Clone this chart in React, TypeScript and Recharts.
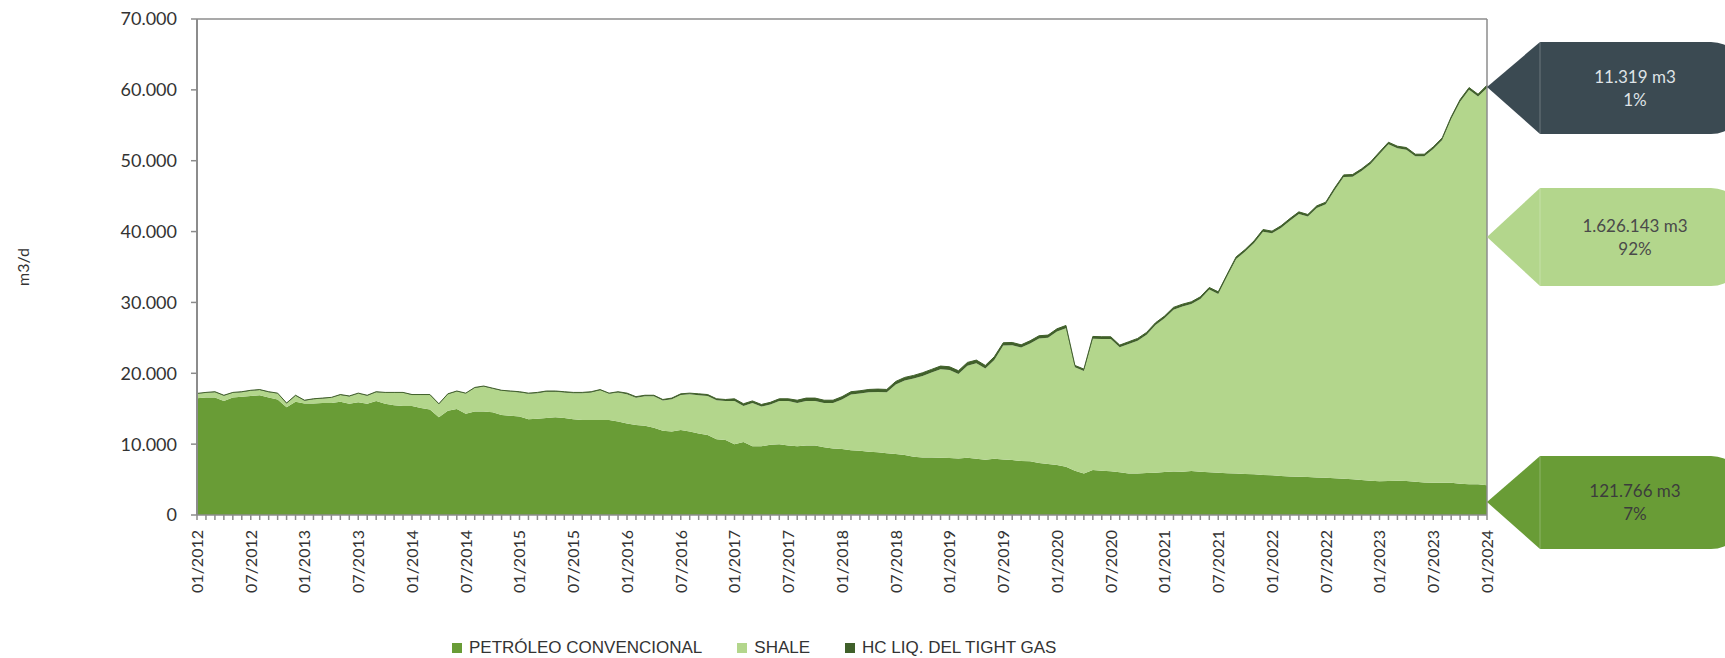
import React from 'react';
import { AreaChart, Area, XAxis, YAxis, ReferenceLine } from 'recharts';

// Monthly categories 01/2012 .. 01/2024
const YEARS = [2012, 2013, 2014, 2015, 2016, 2017, 2018, 2019, 2020, 2021, 2022, 2023, 2024];
const MONTH_CODES = ['01', '02', '03', '04', '05', '06', '07', '08', '09', '10', '11', '12'];
const MONTHS: string[] = [];
YEARS.forEach((y) => MONTH_CODES.forEach((m) => { if (y < 2024 || m === '01') MONTHS.push(`${m}/${y}`); }));

// m3/d
const CONVENCIONAL = [16460,16600,16600,16100,16600,16700,16800,16900,16600,16300,
15200,16000,15750,15750,15800,15800,16000,15700,15900,15700,
16100,15700,15500,15400,15400,15100,14900,13800,14700,14960,
14300,14600,14600,14500,14100,14000,13900,13500,13600,13700,
13800,13700,13500,13400,13400,13400,13400,13200,12900,12700,
12600,12300,11900,11800,12000,11800,11500,11300,10700,10600,
10000,10300,9700,9700,9900,10000,9800,9700,9800,9800,
9550,9400,9300,9150,9050,8940,8840,8700,8600,8460,
8220,8130,8130,8080,8040,7990,8080,7940,7800,7940,
7850,7760,7620,7570,7330,7190,7050,6820,6250,5870,
6350,6250,6160,6020,5870,5870,5920,5970,6060,6150,
6100,6200,6100,6050,5950,5900,5850,5800,5750,5650,
5600,5500,5450,5400,5350,5300,5250,5200,5100,5050,
4950,4850,4750,4800,4850,4800,4700,4600,4550,4550,
4550,4400,4350,4350,4200];

const SHALE = [640,640,740,740,640,640,740,740,740,840,
540,840,390,590,640,740,940,1040,1240,1140,
1240,1540,1740,1840,1530,1830,2030,1830,2330,2470,
2830,3330,3530,3330,3430,3430,3400,3600,3600,3700,
3600,3600,3700,3800,3900,4200,3700,4100,4150,3850,
4150,4450,4250,4550,4950,5250,5400,5500,5500,5500,
6100,5100,6100,5600,5700,6100,6300,6100,6300,6300,
6250,6400,7000,7850,8080,8380,8530,8620,9800,10510,
11030,11500,11970,12490,12430,11920,13000,13470,12860,13940,
16080,16210,16020,16640,17590,17820,18850,19550,14610,14470,
18530,18590,18680,17640,18260,18730,19530,20840,21690,22830,
23330,23590,24390,25760,25250,27790,30280,31370,32640,34340,
34160,35010,36090,37080,36760,38030,38600,40670,42600,42700,
43600,44680,46190,47510,46900,46760,45920,46020,47100,48370,
51330,53930,55670,54730,56070];

const TIGHT_GAS = [60,60,60,60,60,60,60,60,60,60,
60,60,60,60,60,60,60,60,60,60,
60,60,60,60,70,70,70,70,70,70,
70,70,70,70,70,70,100,100,100,100,
100,100,100,100,100,100,100,100,150,150,
150,150,150,150,150,150,200,200,200,200,
300,300,300,300,300,300,300,400,400,400,
400,400,400,400,400,400,400,400,450,450,
450,450,450,450,450,450,450,450,450,450,
380,380,380,380,380,380,380,380,250,250,
320,320,320,320,320,320,320,320,320,320,
320,300,300,300,300,300,300,300,300,300,
300,300,300,300,300,300,300,300,300,300,
300,300,300,300,300,300,300,300,300,300,
300,300,300,300,390];

const Y_TICKS = [0, 10000, 20000, 30000, 40000, 50000, 60000, 70000];
const SERIES_NAMES = ['PETRÓLEO CONVENCIONAL', 'SHALE', 'HC LIQ. DEL TIGHT GAS'];
const CALLOUT_VALUES = ['11.319 m3', '1.626.143 m3', '121.766 m3'];
const CALLOUT_PCTS = ['1%', '92%', '7%'];

const C_CONV = '#699c36';
const C_SHALE = '#b3d68c';
const C_TIGHT = '#40602a';
const C_DARKBOX = '#3b4a52';
const AXIS = '#8c8c8c';
const FONT = "Lato, 'Noto Sans', sans-serif";

const data = MONTHS.map((month, i) => ({
  month,
  conv: CONVENCIONAL[i],
  shale: SHALE[i],
  tight: TIGHT_GAS[i],
}));

const fmt = (v: number) => String(v).replace(/\B(?=(\d{3})+(?!\d))/g, '.');

const XTick = (props: any) => {
  const { x, y, payload } = props;
  const v: string = payload?.value ?? '';
  if (!(v.startsWith('01/') || v.startsWith('07/'))) return null;
  const ty = y + 8;
  return (
    <text x={x} y={ty} transform={`rotate(-90 ${x} ${ty})`} textAnchor="end" dy="0.36em"
      fontSize={16} fontFamily={FONT} fill="#333">{v}</text>
  );
};

const calloutPath = (tipY: number, top: number, bottom: number) => {
  const tipX = 1487, baseX = 1540, r = 34, right = 1745;
  return `M${tipX},${tipY} L${baseX},${top} L${right - r},${top} A${r},${r} 0 0 1 ${right},${top + r} L${right},${bottom - r} A${r},${r} 0 0 1 ${right - r},${bottom} L${baseX},${bottom} Z`;
};

const CALLOUT_GEOM = [
  { tipY: 87, top: 42, bottom: 134, fill: C_DARKBOX, text: '#dfe3e6' },
  { tipY: 237, top: 188, bottom: 286, fill: C_SHALE, text: '#4a4a4a' },
  { tipY: 502, top: 456, bottom: 549, fill: C_CONV, text: '#3c3c3c' },
];

export default function App() {
  return (
    <div style={{ position: 'absolute', left: 0, top: 0, width: 1725, height: 658, background: '#fff' }}>
      <AreaChart width={1725} height={658} data={data}
        margin={{ top: 19, right: 238, bottom: 43, left: 0 }}>
        <XAxis dataKey="month" interval={0} height={100} tickSize={5}
          axisLine={{ stroke: AXIS, strokeWidth: 1.5 }} tickLine={{ stroke: AXIS, strokeWidth: 1.5 }}
          tick={<XTick />} />
        <YAxis width={197} domain={[0, 70000]} ticks={Y_TICKS} tickFormatter={fmt}
          tickSize={6} tickMargin={14} allowDataOverflow
          axisLine={{ stroke: AXIS, strokeWidth: 2 }} tickLine={{ stroke: AXIS, strokeWidth: 1.5 }}
          tick={{ fontSize: 18, fontFamily: FONT, fill: '#333' }} />
        <Area type="linear" dataKey="conv" stackId="1" fill={C_CONV} fillOpacity={1} stroke="none"
          isAnimationActive={false} dot={false} activeDot={false} name={SERIES_NAMES[0]} />
        <Area type="linear" dataKey="shale" stackId="1" fill={C_SHALE} fillOpacity={1} stroke="none"
          isAnimationActive={false} dot={false} activeDot={false} name={SERIES_NAMES[1]} />
        <Area type="linear" dataKey="tight" stackId="1" fill={C_TIGHT} fillOpacity={1} stroke={C_TIGHT}
          strokeWidth={1} isAnimationActive={false} dot={false} activeDot={false} name={SERIES_NAMES[2]} />
        <ReferenceLine y={70000} stroke={AXIS} strokeWidth={1.5} />
        <ReferenceLine x={MONTHS[MONTHS.length - 1]} stroke={AXIS} strokeWidth={1.5} />
      </AreaChart>

      <svg width={1725} height={658} style={{ position: 'absolute', left: 0, top: 0, pointerEvents: 'none' }}>
        <text x={23} y={267} transform="rotate(-90 23 267)" textAnchor="middle" dy="0.35em"
          fontSize={16} fontFamily={FONT} fill="#333">m3/d</text>
        {CALLOUT_GEOM.map((g, i) => {
          const cy = (g.top + g.bottom) / 2;
          return (
            <g key={i}>
              <path d={calloutPath(g.tipY, g.top, g.bottom)} fill={g.fill} />
              <line x1={1540} y1={g.top} x2={1540} y2={g.bottom} stroke="#ffffff" strokeOpacity={0.25} strokeWidth={1} />
              <text x={1635} y={cy - 11} textAnchor="middle" dy="0.35em" fontSize={17} fontFamily={FONT} fill={g.text}>{CALLOUT_VALUES[i]}</text>
              <text x={1635} y={cy + 12} textAnchor="middle" dy="0.35em" fontSize={17} fontFamily={FONT} fill={g.text}>{CALLOUT_PCTS[i]}</text>
            </g>
          );
        })}
      </svg>

      <div style={{ position: 'absolute', left: 452, top: 638, height: 20, display: 'flex', alignItems: 'center',
        fontFamily: "'Liberation Sans', Arial, sans-serif", fontSize: 17, color: '#333', whiteSpace: 'nowrap' }}>
        {SERIES_NAMES.map((n, i) => (
          <div key={n} style={{ display: 'flex', alignItems: 'center', marginRight: 35 }}>
            <span style={{ display: 'inline-block', width: 10, height: 10, background: [C_CONV, C_SHALE, C_TIGHT][i], marginRight: 7 }} />
            <span>{n}</span>
          </div>
        ))}
      </div>
    </div>
  );
}
